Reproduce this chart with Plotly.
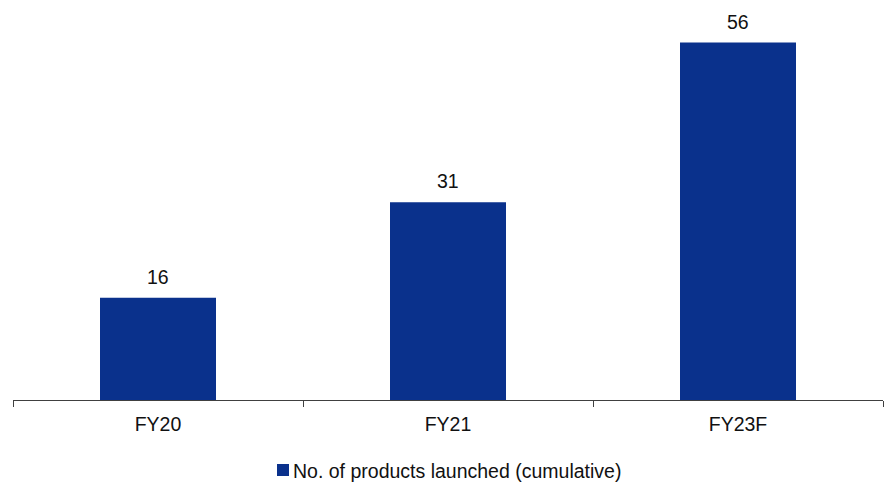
import plotly.graph_objects as go

categories = ["FY20", "FY21", "FY23F"]
products_launched = [16, 31, 56]
series_name = "No. of products launched (cumulative)"

bar_color = "#0a318c"
text_color = "#111111"
font_family = "Liberation Sans, Arial, sans-serif"
font_size = 19.5

fig = go.Figure()
fig.add_trace(go.Bar(
    x=categories,
    y=products_launched,
    name=series_name,
    marker=dict(color=bar_color, line=dict(width=0)),
    showlegend=False,
))

# value labels above each bar
for cat, val in zip(categories, products_launched):
    fig.add_annotation(
        x=cat, y=val, text=str(val), showarrow=False,
        yanchor="bottom", yshift=8,
        font=dict(size=font_size, color=text_color, family=font_family),
    )

# legend: small square swatch followed by the series name
fig.add_shape(
    type="rect", xref="paper", yref="paper",
    x0=(277 - 13) / 870, x1=(289 - 13) / 870,
    y0=(400 - 476) / 390, y1=(400 - 464) / 390,
    fillcolor=bar_color, line=dict(width=0),
)
fig.add_annotation(
    xref="paper", yref="paper",
    x=(291 - 13) / 870, y=(400 - 470.5) / 390,
    xanchor="left", yanchor="middle", showarrow=False,
    text=series_name,
    font=dict(size=font_size, color=text_color, family=font_family),
)

fig.update_layout(
    width=890, height=483,
    margin=dict(l=13, r=7, t=10, b=83, autoexpand=False),
    plot_bgcolor="white", paper_bgcolor="white",
    bargap=0.6,
    showlegend=False,
    font=dict(family=font_family, size=font_size, color=text_color),
    xaxis=dict(
        showline=True, linecolor="#404040", linewidth=1,
        ticks="outside", ticklen=6, tickcolor="#404040",
        tickson="boundaries", showgrid=False, automargin=False,
        ticklabelstandoff=7,
        tickfont=dict(size=font_size, color=text_color),
    ),
    yaxis=dict(
        visible=False, range=[0, 61.1], showgrid=False, zeroline=False,
    ),
)

fig.write_html("out.html")
